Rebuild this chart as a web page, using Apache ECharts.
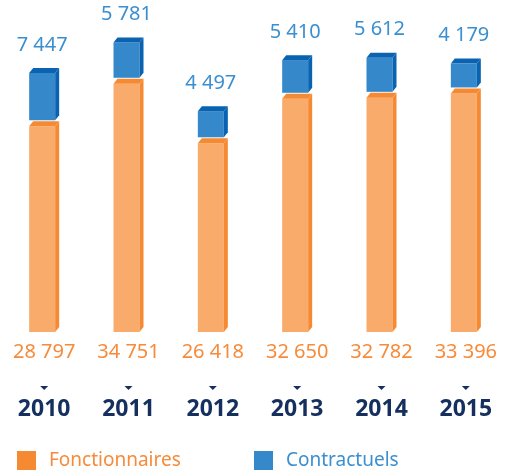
<!DOCTYPE html>
<html>
<head>
<meta charset="utf-8">
<script src="https://cdn.jsdelivr.net/npm/echarts@6/dist/echarts.min.js"></script>
<style>
  html, body { margin: 0; padding: 0; background: #fff; }
  #main { width: 508px; height: 475px; }
</style>
</head>
<body>
<div id="main"></div>
<script>
// effectifs par année
var years = ['2010', '2011', '2012', '2013', '2014', '2015'];
var fonctionnaires = [28797, 34751, 26418, 32650, 32782, 33396];
var contractuels = [7447, 5781, 4497, 5410, 5612, 4179];

var FONT = '"Noto Sans", sans-serif';
var ORANGE = '#f9ab6c', ORANGE_DARK = '#f68a32', ORANGE_TXT = '#f68b3a';
var BLUE = '#3589cb', BLUE_DARK = '#0963b1', BLUE_TXT = '#3a8fd0';
var NAVY = '#15305e';

var DX = 4, DY = 5; // profondeur 3D

function fmt(n) {
  return String(n).replace(/\B(?=(\d{3})+(?!\d))/g, ' ');
}

// une "boite" 3D : face avant, coté droit, dessus
function box(cx, yBot, yTop, front, dark) {
  var x0 = cx - 15, x1 = cx + 11;
  return [
    { type: 'rect', shape: { x: x0, y: yTop, width: x1 - x0, height: yBot - yTop }, style: { fill: front } },
    { type: 'polygon', shape: { points: [[x1, yTop], [x1 + DX, yTop - DY], [x1 + DX, yBot - DY], [x1, yBot]] }, style: { fill: dark } },
    { type: 'polygon', shape: { points: [[x0, yTop], [x0 + DX, yTop - DY], [x1 + DX, yTop - DY], [x1, yTop]] }, style: { fill: dark } }
  ];
}

var chart = echarts.init(document.getElementById('main'));

chart.setOption({
  animation: false,
  grid: { left: 2, right: 0, top: 2, bottom: 143 },
  legend: [{
    data: [{ name: 'Fonctionnaires', icon: 'rect', itemStyle: { color: ORANGE_DARK } }],
    left: 17, top: 451, padding: 0,
    itemWidth: 19, itemHeight: 19,
    textStyle: { color: ORANGE_TXT, fontSize: 19, fontFamily: FONT, padding: [0, 0, 0, 8] }
  }, {
    data: [{ name: 'Contractuels', icon: 'rect', itemStyle: { color: BLUE } }],
    left: 254, top: 451, padding: 0,
    itemWidth: 19, itemHeight: 19,
    textStyle: { color: BLUE_TXT, fontSize: 19, fontFamily: FONT, padding: [0, 0, 0, 8] }
  }],
  xAxis: {
    type: 'category',
    data: years,
    axisLine: { show: false },
    axisTick: { show: false },
    axisLabel: {
      margin: 66,
      color: NAVY,
      fontSize: 23,
      fontWeight: 'bold',
      fontFamily: FONT
    }
  },
  yAxis: {
    type: 'value',
    min: 0,
    max: 46200,
    show: false
  },
  series: [{
    name: 'Fonctionnaires',
    type: 'custom',
    clip: false,
    itemStyle: { color: ORANGE_DARK },
    encode: { x: 0, y: 1 },
    data: fonctionnaires.map(function (v, i) { return [i, v]; }),
    renderItem: function (params, api) {
      var i = api.value(0);
      var base = api.coord([i, 0]);
      var top = api.coord([i, api.value(1)]);
      var cx = base[0];
      var children = box(cx, base[1], top[1], ORANGE, ORANGE_DARK);
      children.push({
        type: 'text',
        style: { text: fmt(api.value(1)), x: cx, y: base[1] + 20, align: 'center', verticalAlign: 'middle',
                 fill: ORANGE_TXT, font: '20px ' + FONT }
      });
      children.push({
        type: 'polygon',
        shape: { points: [[cx - 4, base[1] + 54], [cx + 4, base[1] + 54], [cx, base[1] + 58]] },
        style: { fill: NAVY }
      });
      return { type: 'group', children: children };
    }
  }, {
    name: 'Contractuels',
    type: 'custom',
    clip: false,
    itemStyle: { color: BLUE },
    encode: { x: 0, y: 1 },
    data: contractuels.map(function (v, i) { return [i, fonctionnaires[i] + v, fonctionnaires[i], v]; }),
    renderItem: function (params, api) {
      var i = api.value(0);
      var bot = api.coord([i, api.value(2)]);
      var top = api.coord([i, api.value(1)]);
      var cx = bot[0];
      var children = box(cx, bot[1] - DY - 1, top[1], BLUE, BLUE_DARK);
      children.push({
        type: 'text',
        style: { text: fmt(api.value(3)), x: cx - 2, y: top[1] - 28, align: 'center', verticalAlign: 'middle',
                 fill: BLUE_TXT, font: '20px ' + FONT }
      });
      return { type: 'group', children: children };
    }
  }]
});
</script>
</body>
</html>
